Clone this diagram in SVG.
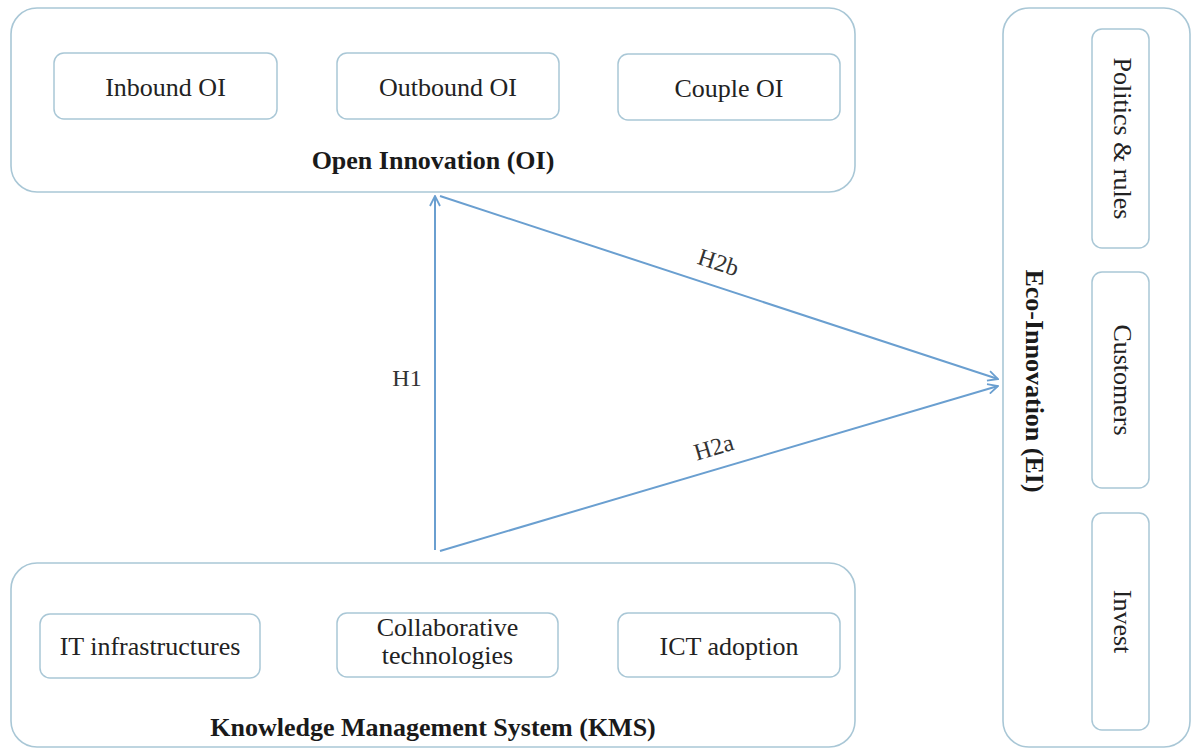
<svg xmlns="http://www.w3.org/2000/svg" width="1193" height="749" viewBox="0 0 1193 749">
<style>
.outer{fill:#ffffff;stroke:#a9c7d6;stroke-width:1.6}
.inner{fill:#ffffff;stroke:#a9c7d6;stroke-width:1.5}
.lbl{font-family:"Liberation Serif","Times New Roman",serif;font-size:26px;fill:#222;text-anchor:middle}
.ttl{font-family:"Liberation Serif","Times New Roman",serif;font-size:26px;font-weight:bold;fill:#1a1a1a;text-anchor:middle}
.hl{font-family:"Liberation Serif","Times New Roman",serif;font-size:24px;fill:#333;text-anchor:middle}
.conn{stroke:#6a9fd0;stroke-width:2;fill:none}
</style>
<defs>
<marker id="arr" viewBox="0 0 12 12" refX="11" refY="6" markerWidth="12" markerHeight="12" markerUnits="userSpaceOnUse" orient="auto">
<path d="M1,1 L11,6 L1,11" fill="none" stroke="#6a9fd0" stroke-width="1.8"/>
</marker>
</defs>
<rect width="1193" height="749" fill="#ffffff"/>

<g id="OI">
<rect class="outer" x="11" y="8" width="844" height="184" rx="26"/>
<text class="ttl" x="433" y="169">Open Innovation (OI)</text>
</g>
<g id="InboundOI">
<rect class="inner" x="54" y="53" width="223" height="66" rx="10"/>
<text class="lbl" x="165.5" y="96">Inbound OI</text>
</g>
<g id="OutboundOI">
<rect class="inner" x="337" y="53" width="222" height="66" rx="10"/>
<text class="lbl" x="448" y="96">Outbound OI</text>
</g>
<g id="CoupleOI">
<rect class="inner" x="618" y="54" width="222" height="66" rx="10"/>
<text class="lbl" x="729" y="97">Couple OI</text>
</g>

<g id="KMS">
<rect class="outer" x="11" y="563" width="844" height="184" rx="26"/>
<text class="ttl" x="433" y="736">Knowledge Management System (KMS)</text>
</g>
<g id="ITinfra">
<rect class="inner" x="40" y="614" width="220" height="64" rx="10"/>
<text class="lbl" x="150" y="655">IT infrastructures</text>
</g>
<g id="Collab">
<rect class="inner" x="337" y="613" width="221" height="64" rx="10"/>
<text class="lbl" x="447.5" y="636" font-size="25">Collaborative</text>
<text class="lbl" x="447.5" y="664" font-size="25">technologies</text>
</g>
<g id="ICT">
<rect class="inner" x="618" y="613" width="222" height="64" rx="10"/>
<text class="lbl" x="729" y="655">ICT adoption</text>
</g>

<g id="EI">
<rect class="outer" x="1003" y="8" width="187" height="739" rx="26"/>
<text class="ttl" transform="translate(1035,381) rotate(90)" x="0" y="9" font-size="28.5">Eco-Innovation (EI)</text>
</g>
<g id="Politics">
<rect class="inner" x="1092" y="29" width="57" height="219" rx="10"/>
<text class="lbl" transform="translate(1121,138.5) rotate(90)" x="0" y="7" font-size="28">Politics &amp; rules</text>
</g>
<g id="Customers">
<rect class="inner" x="1092" y="272" width="57" height="216" rx="10"/>
<text class="lbl" transform="translate(1121,380) rotate(90)" x="0" y="7" font-size="27">Customers</text>
</g>
<g id="Invest">
<rect class="inner" x="1092" y="513" width="57" height="217" rx="10"/>
<text class="lbl" transform="translate(1121,621.5) rotate(90)" x="0" y="7" font-size="27">Invest</text>
</g>

<g id="connectors">
<line class="conn" x1="435" y1="550" x2="435" y2="196" marker-end="url(#arr)"/>
<line class="conn" x1="440" y1="196" x2="998" y2="379" marker-end="url(#arr)"/>
<line class="conn" x1="440" y1="551" x2="998" y2="386" marker-end="url(#arr)"/>
<text class="hl" x="407" y="386">H1</text>
<text class="hl" transform="translate(716,270) rotate(18)" x="0" y="0">H2b</text>
<text class="hl" transform="translate(716,455) rotate(-16.5)" x="0" y="0">H2a</text>
</g>
</svg>
